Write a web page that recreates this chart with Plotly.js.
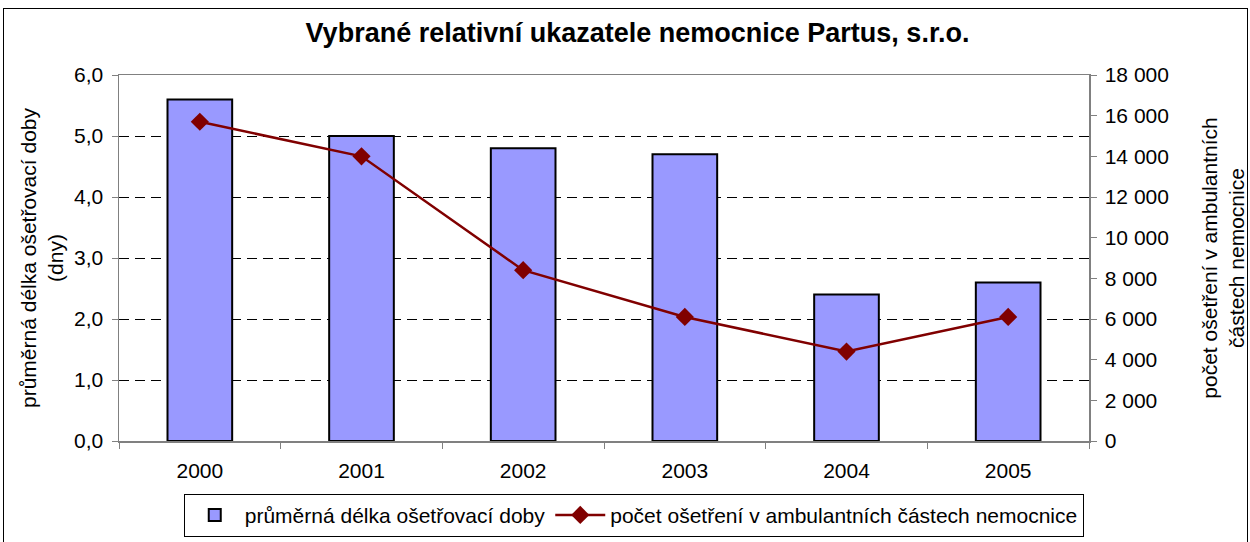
<!DOCTYPE html>
<html>
<head>
<meta charset="utf-8">
<script src="https://cdn.plot.ly/plotly-3.0.1.min.js"></script>
<style>
html,body{margin:0;padding:0;background:#fff;}
#wrap{position:relative;width:1250px;height:542px;overflow:hidden;}
#chart{width:1250px;height:542px;}
#frame{position:absolute;left:3px;top:8px;width:1243px;height:560px;border:1px solid #000;pointer-events:none;}
</style>
</head>
<body>
<div id="wrap"><div id="chart"></div><div id="frame"></div></div>
<script>
const years = ['2000','2001','2002','2003','2004','2005'];
const avgStay = [5.6, 5.0, 4.8, 4.7, 2.4, 2.6];
const outpatient = [15700, 14000, 8400, 6100, 4400, 6100];
const barName = 'průměrná délka ošetřovací doby';
const lineName = 'počet ošetření v ambulantních částech nemocnice';

const font = 'Liberation Sans, Arial, sans-serif';
const fs = 21;

const data = [
  {
    type: 'bar', x: years, y: avgStay, name: barName,
    marker: {color: '#9999FF', line: {color: '#000', width: 2}},
    width: 0.4, yaxis: 'y'
  },
  {
    type: 'scatter', mode: 'lines+markers', x: years, y: outpatient, name: lineName,
    line: {color: '#800000', width: 2.5},
    marker: {symbol: 'diamond', size: 14, color: '#800000'},
    yaxis: 'y2'
  }
];

const layout = {
  width: 1250, height: 542,
  margin: {l: 119, r: 161, t: 75, b: 101, autoexpand: false},
  paper_bgcolor: '#fff', plot_bgcolor: '#fff',
  separators: ', ',
  font: {family: font, size: fs, color: '#000'},
  title: {text: '<b>Vybrané relativní ukazatele nemocnice Partus, s.r.o.</b>',
          font: {family: font, size: 27, color: '#000'}, x: 0.51, xanchor: 'center', y: 0.94, yanchor: 'middle'},
  showlegend: true,
  legend: {orientation: 'h', x: 0.507, xanchor: 'center', xref: 'container',
           y: 0.089, yanchor: 'top', yref: 'container',
           bordercolor: '#000', borderwidth: 1, font: {family: font, size: fs, color: '#000'},
           itemwidth: 50, traceorder: 'normal'},
  xaxis: {
    type: 'category', showline: true, linecolor: '#808080', linewidth: 1.5, mirror: true,
    ticks: 'outside', tickson: 'boundaries', ticklen: 6, tickcolor: '#808080',
    ticklabelstandoff: 10,
    tickfont: {family: font, size: fs, color: '#000'}, showgrid: false
  },
  yaxis: {
    range: [0, 6], dtick: 1, tickformat: '.1f', showline: true, linecolor: '#808080', linewidth: 1.5,
    ticks: 'outside', ticklen: 6, tickcolor: '#808080', ticklabelstandoff: 4,
    showgrid: true, gridcolor: '#000', griddash: '10px,6px', gridwidth: 1, zeroline: false,
    tickfont: {family: font, size: fs, color: '#000'},
    title: {text: 'průměrná délka ošetřovací doby<br>(dny)', font: {family: font, size: fs, color: '#000'}, standoff: 4}
  },
  yaxis2: {
    range: [0, 18000], dtick: 2000, tickformat: ',d', overlaying: 'y', side: 'right',
    showline: true, linecolor: '#808080', linewidth: 1.5, ticks: 'outside', ticklen: 6, tickcolor: '#808080',
    ticklabelstandoff: 4,
    showgrid: false, zeroline: false,
    tickfont: {family: font, size: fs, color: '#000'},
    title: {text: 'počet ošetření v ambulantních<br>částech nemocnice', font: {family: font, size: fs, color: '#000'}, standoff: 34}
  }
};

Plotly.newPlot('chart', data, layout, {displayModeBar: false, staticPlot: true});
</script>
</body>
</html>
